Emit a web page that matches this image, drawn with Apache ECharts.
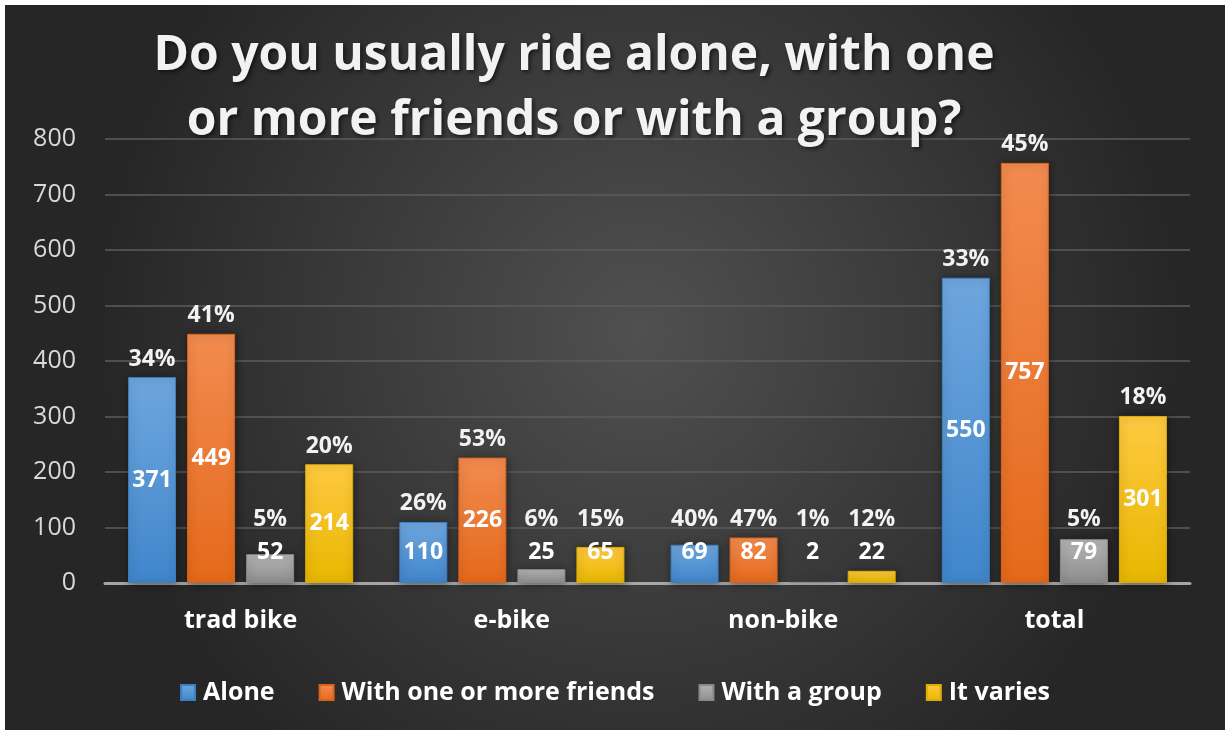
<!DOCTYPE html>
<html>
<head>
<meta charset="utf-8">
<script src="https://cdn.jsdelivr.net/npm/echarts@6/dist/echarts.min.js"></script>
<style>
  html, body { margin: 0; padding: 0; background: #ffffff; }
  #chart { position: absolute; left: 5px; top: 5px; width: 1220px; height: 725px; }
</style>
</head>
<body>
<div id="chart"></div>
<script>
// Survey answers by rider type
const categories = ['trad bike', 'e-bike', 'non-bike', 'total'];
const seriesNames = ['Alone', 'With one or more friends', 'With a group', 'It varies'];
const alone   = [371, 110, 69, 550];
const friends = [449, 226, 82, 757];
const group   = [52, 25, 2, 79];
const varies  = [214, 65, 22, 301];
// Share of each answer within its category, as printed above the bars
const alonePct   = ['34%', '26%', '40%', '33%'];
const friendsPct = ['41%', '53%', '47%', '45%'];
const groupPct   = ['5%', '6%', '1%', '5%'];
const variesPct  = ['20%', '15%', '12%', '18%'];
const yTicks = [0, 100, 200, 300, 400, 500, 600, 700, 800];

const FONT = '"Open Sans", "Liberation Sans", sans-serif';
const chart = echarts.init(document.getElementById('chart'));

function grad(top, bottom) {
  return new echarts.graphic.LinearGradient(0, 0, 0, 1, [
    { offset: 0, color: top },
    { offset: 1, color: bottom }
  ]);
}
const palettes = [
  ['#6ea6de', '#4086cb', '#3d7fc0'],
  ['#f28b50', '#e5691a', '#d8631a'],
  ['#b4b4b4', '#8e8e8e', '#8a8a8a'],
  ['#ffc941', '#e8b700', '#dcae00']
];
const values = [alone, friends, group, varies];
const pcts = [alonePct, friendsPct, groupPct, variesPct];
const stacks = ['s0', 's1', 's2', 's3'];

function baseY() {
  return chart.convertToPixel({ yAxisIndex: 0 }, 0);
}

const series = [];
values.forEach(function (vals, i) {
  // the bar itself, with its count centred inside
  series.push({
    name: seriesNames[i],
    type: 'bar',
    stack: stacks[i],
    barWidth: 48,
    barGap: '23%',
    data: vals,
    itemStyle: {
      color: grad(palettes[i][0], palettes[i][1]),
      borderColor: palettes[i][2],
      borderWidth: 1,
      shadowColor: 'rgba(0,0,0,0.45)',
      shadowBlur: 8,
      shadowOffsetX: 1,
      shadowOffsetY: 1
    },
    emphasis: { disabled: true },
    label: {
      show: true,
      position: 'inside',
      color: '#ffffff',
      fontFamily: FONT,
      fontWeight: 'bold',
      fontSize: 23
    },
    labelLayout: function (p) {
      const r = p.rect;
      const bottom = r.y + r.height;
      const mid = r.y + r.height / 2;
      return { dy: Math.min(0, bottom - 31 - mid) };
    }
  });
  // zero-height cap stacked on top, carrying the percentage label
  series.push({
    name: seriesNames[i] + ' share',
    type: 'bar',
    stack: stacks[i],
    barWidth: 48,
    data: vals.map(function () { return 0; }),
    itemStyle: { color: 'rgba(0,0,0,0)' },
    silent: true,
    emphasis: { disabled: true },
    label: {
      show: true,
      position: 'top',
      distance: 8,
      color: '#f2f2f2',
      fontFamily: FONT,
      fontWeight: 'bold',
      fontSize: 23,
      formatter: function (p) { return pcts[i][p.dataIndex]; }
    },
    labelLayout: function (p) {
      const r = p.rect;
      const want = Math.min(r.y - 18, baseY() - 64);
      return { x: r.x + r.width / 2, y: want, align: 'center', verticalAlign: 'middle' };
    }
  });
});

chart.setOption({
  backgroundColor: new echarts.graphic.RadialGradient(0.52, 0.45, 0.75, [
    { offset: 0, color: '#505050' },
    { offset: 1, color: '#262626' }
  ]),
  animation: false,
  title: {
    text: 'Do you usually ride alone, with one\nor more friends or with a group?',
    left: 564,
    top: 14,
    textAlign: 'center',
    textStyle: {
      color: '#f2f2f2',
      fontFamily: FONT,
      fontWeight: 'bold',
      fontSize: 48,
      lineHeight: 65,
      textShadowColor: 'rgba(0,0,0,0.6)',
      textShadowBlur: 4,
      textShadowOffsetX: 2,
      textShadowOffsetY: 2
    }
  },
  legend: {
    data: seriesNames,
    bottom: 20,
    left: 'center',
    icon: 'rect',
    itemWidth: 14,
    itemHeight: 15,
    itemGap: 44,
    textStyle: {
      color: '#ffffff',
      fontFamily: FONT,
      fontWeight: 'bold',
      fontSize: 25,
      padding: [0, 0, 0, 3]
    }
  },
  grid: { left: 100, right: 35, top: 134, bottom: 147, containLabel: false },
  xAxis: {
    type: 'category',
    data: categories,
    axisTick: { show: false },
    axisLine: { lineStyle: { color: '#a6a6a6', width: 3 } },
    axisLabel: {
      color: '#ffffff',
      fontFamily: FONT,
      fontWeight: 'bold',
      fontSize: 25,
      margin: 25
    }
  },
  yAxis: {
    type: 'value',
    min: yTicks[0],
    max: yTicks[yTicks.length - 1],
    interval: yTicks[1] - yTicks[0],
    axisLine: { show: false },
    axisTick: { show: false },
    splitLine: { lineStyle: { color: '#5c5c5c', width: 1.5 } },
    axisLabel: {
      color: '#d9d9d9',
      fontFamily: FONT,
      fontSize: 25,
      margin: 29
    }
  },
  series: series
});
</script>
</body>
</html>
